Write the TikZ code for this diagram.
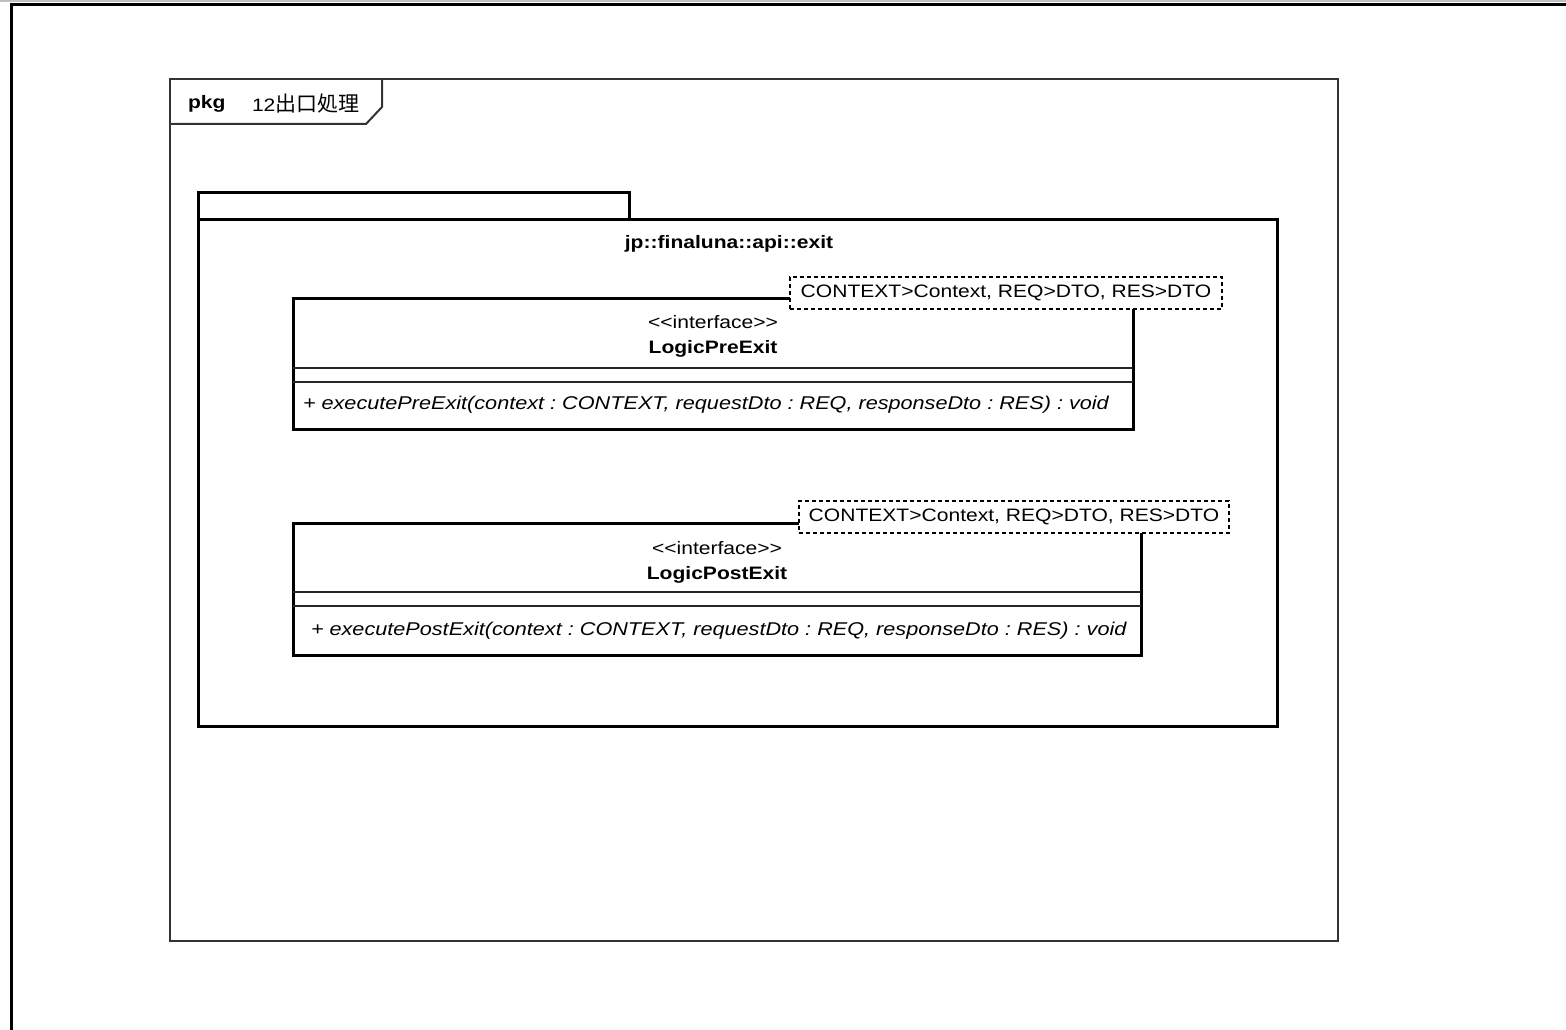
\documentclass[tikz,border=0pt]{standalone}
\usepackage{fontspec}
\setmainfont{Liberation Sans}[FakeStretch=1.17]
\newfontfamily\cjk{Noto Sans CJK JP}
\frenchspacing
\newcommand{\ltlt}{<\kern0pt<}
\newcommand{\gtgt}{>\kern0pt>}
\begin{document}
\begin{tikzpicture}[x=1pt,y=-1pt,
  every node/.style={inner sep=0pt,outer sep=0pt},
  txt/.style={font=\fontsize{18}{20}\selectfont},
  boldtxt/.style={font=\bfseries\fontsize{18}{20}\selectfont},
  meth/.style={font=\itshape\fontsize{18.5}{20}\selectfont, anchor=west},
  framebox/.style={draw=black!80, line width=2pt, anchor=north west},
  pkgbox/.style={draw=black, line width=3pt, anchor=north west},
  classbox/.style={draw=black, line width=3pt, fill=white, anchor=north west},
  sepline/.style={draw=black!85, line width=1.6pt},
  tmplbox/.style={draw=black, dashed, dash pattern=on 4pt off 3pt, line width=1.5pt, fill=white, anchor=north west, minimum height=32pt}
]
\useasboundingbox (0,0) rectangle (1566,1030);
% page edge
\fill[black!25] (0,0) rectangle (1566,2.5);
\draw[line width=3pt] (11,1030) -- (11,4.5) -- (1566,4.5);

% diagram frame
\node[framebox, minimum width=1168pt, minimum height=862pt] (frame) at (170,79) {};
\draw[draw=black!80, line width=2pt] (382,79) -- (382,107) -- (366,124) -- (170,124);
\node[font=\bfseries\fontsize{18}{20}\selectfont, anchor=west] (pkgkw) at (188,104) {pkg};
\node[font=\fontsize{18}{20}\selectfont, anchor=west] (pkgname) at (252,104) {12{\cjk\fontsize{21}{20}\selectfont 出口処理}};

% package
\node[pkgbox, minimum width=431pt, minimum height=27pt] (ptab) at (198,192) {};
\node[pkgbox, minimum width=1079pt, minimum height=507pt] (pbody) at (198,219) {};
\node[boldtxt] (pname) at (729,244) {jp::finaluna::api::exit};

% class 1
\node[classbox, minimum width=840pt, minimum height=131pt] (c1) at (293,298) {};
\draw[sepline] ([yshift=-70pt]c1.north west) -- ([yshift=-70pt]c1.north east);
\draw[sepline] ([yshift=-84pt]c1.north west) -- ([yshift=-84pt]c1.north east);
\node[txt] (c1st) at (713,322) {\ltlt interface\gtgt};
\node[boldtxt] (c1nm) at (713,349) {LogicPreExit};
\node[meth] (c1op) at (303,405) {+ executePreExit(context : CONTEXT, requestDto : REQ, responseDto : RES) : void};
\node[tmplbox, minimum width=432pt] (t1) at (790,277) {};
\node[txt] (t1txt) at (t1.center) {CONTEXT>Context, REQ>DTO, RES>DTO};

% class 2
\node[classbox, minimum width=848pt, minimum height=132pt] (c2) at (293,523) {};
\draw[sepline] ([yshift=-69pt]c2.north west) -- ([yshift=-69pt]c2.north east);
\draw[sepline] ([yshift=-83pt]c2.north west) -- ([yshift=-83pt]c2.north east);
\node[txt] (c2st) at (717,548) {\ltlt interface\gtgt};
\node[boldtxt] (c2nm) at (717,575) {LogicPostExit};
\node[meth] (c2op) at (311,631) {+ executePostExit(context : CONTEXT, requestDto : REQ, responseDto : RES) : void};
\node[tmplbox, minimum width=430pt] (t2) at (799,501) {};
\node[txt] (t2txt) at (t2.center) {CONTEXT>Context, REQ>DTO, RES>DTO};
\end{tikzpicture}
\end{document}
